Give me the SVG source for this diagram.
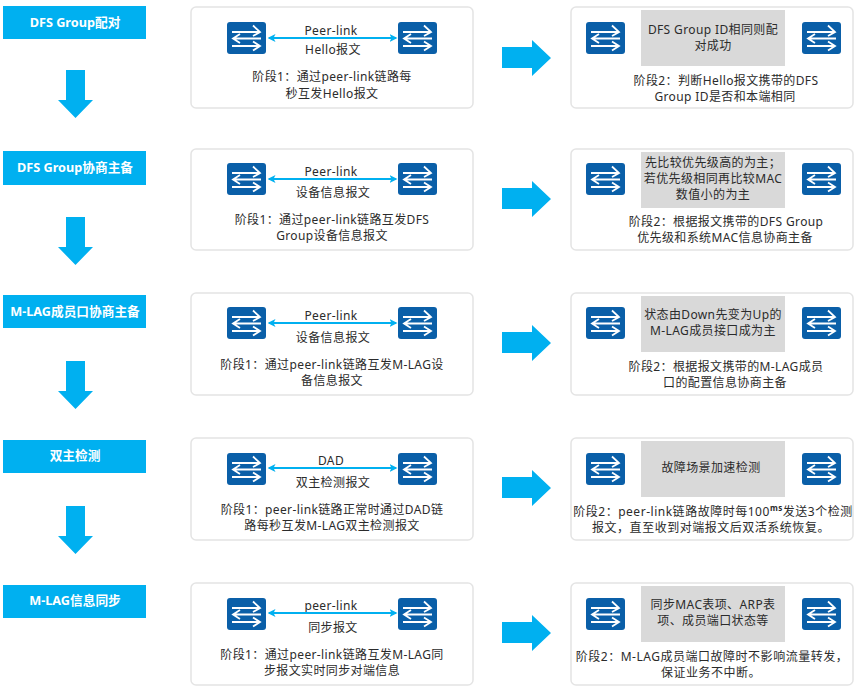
<svg xmlns="http://www.w3.org/2000/svg" width="865" height="687" viewBox="0 0 865 687">
<style>
text{font-family:"Noto Sans","Noto Sans CJK SC",sans-serif;font-size:12px;letter-spacing:.38px;fill:#2b2b2b;text-anchor:middle}
.h{fill:#00b0f0}
text.ht{fill:#fff;font-weight:700;font-size:12.7px;letter-spacing:0}
text.w{letter-spacing:.52px}
.card{fill:#fff;stroke:#e4e4e4;stroke-width:1.5}
.grey{fill:#d9d9d9}
.link{stroke:#00b0f0;stroke-width:2;fill:none;marker-start:url(#a);marker-end:url(#a)}
.sup{font-size:8px;font-weight:700}
</style>
<defs>
<marker id="a" viewBox="0 0 8 8" refX="6.5" refY="4" markerWidth="8" markerHeight="8" orient="auto-start-reverse" markerUnits="userSpaceOnUse"><path d="M0 0L8 4L0 8L2 4Z" fill="#00b0f0"/></marker>
<g id="sw">
<rect x="0" y="0" width="39" height="32" rx="3" fill="#0a5fa8"/>
<g fill="none" stroke="#fff" stroke-width="1.8"><path d="M5 10H32M26 3.500L33 10L26 14"/><path d="M34 16.500H7M13 12L6 16.500L13 21"/><path d="M5 24H32M26 19.500L33 24L26 28.500"/></g>
</g>
<path id="dn" class="h" d="M66 70H85V100H93L75.500 118L58 100H66Z"/>
<path id="rt" class="h" d="M502 47H532V40L551 58L532 76V68H502Z"/>
</defs>

<g id="step1"><rect class="h" x="3" y="6" width="143" height="33"/><text class="ht" x="75" y="27">DFS Group配对</text></g>
<g id="step2"><rect class="h" x="3" y="151" width="143" height="34"/><text class="ht" x="75" y="172">DFS Group协商主备</text></g>
<g id="step3"><rect class="h" x="3" y="295" width="143" height="33"/><text class="ht" x="75" y="316">M-LAG成员口协商主备</text></g>
<g id="step4"><rect class="h" x="3" y="440" width="143" height="33"/><text class="ht" x="75" y="460">双主检测</text></g>
<g id="step5"><rect class="h" x="3" y="585" width="143" height="33"/><text class="ht" x="75" y="605">M-LAG信息同步</text></g>

<g id="r1a"><rect class="card" x="191" y="7" width="282" height="101" rx="5"/><use href="#sw" x="227" y="22"/><use href="#sw" x="398" y="22"/>
<text x="331" y="35">Peer-link</text><text x="333" y="54">Hello报文</text><text x="332" y="81">阶段1：通过peer-link链路每</text><text x="332" y="98">秒互发Hello报文</text></g>
<g id="r1b"><rect class="card" x="571" y="7" width="282" height="101" rx="5"/><rect class="grey" x="641" y="10" width="144" height="56"/><use href="#sw" x="586" y="22"/><use href="#sw" x="802" y="22"/>
<text x="713" y="34">DFS Group ID相同则配</text><text x="713" y="50">对成功</text><text x="726" y="85">阶段2：判断Hello报文携带的DFS</text><text x="725" y="101">Group ID是否和本端相同</text></g>

<g id="r2a"><rect class="card" x="191" y="149" width="282" height="101" rx="5"/><use href="#sw" x="227" y="163"/><use href="#sw" x="398" y="163"/>
<text x="331" y="176">Peer-link</text><text x="333" y="197">设备信息报文</text><text x="332" y="224">阶段1：通过peer-link链路互发DFS</text><text x="332" y="240">Group设备信息报文</text></g>
<g id="r2b"><rect class="card" x="571" y="149" width="282" height="101" rx="5"/><rect class="grey" x="641" y="152" width="144" height="56"/><use href="#sw" x="586" y="163"/><use href="#sw" x="802" y="163"/>
<text x="713" y="167">先比较优先级高的为主；</text><text x="713" y="183">若优先级相同再比较MAC</text><text x="713" y="199">数值小的为主</text><text x="726" y="226">阶段2：根据报文携带的DFS Group</text><text x="725" y="242">优先级和系统MAC信息协商主备</text></g>

<g id="r3a"><rect class="card" x="191" y="293" width="282" height="102" rx="5"/><use href="#sw" x="227" y="307"/><use href="#sw" x="398" y="307"/>
<text x="331" y="320">Peer-link</text><text x="333" y="342">设备信息报文</text><text x="332" y="369">阶段1：通过peer-link链路互发M-LAG设</text><text x="332" y="385">备信息报文</text></g>
<g id="r3b"><rect class="card" x="571" y="293" width="282" height="102" rx="5"/><rect class="grey" x="641" y="296" width="144" height="56"/><use href="#sw" x="586" y="307"/><use href="#sw" x="802" y="307"/>
<text x="713" y="319">状态由Down先变为Up的</text><text x="713" y="335">M-LAG成员接口成为主</text><text x="726" y="371">阶段2：根据报文携带的M-LAG成员</text><text x="725" y="387">口的配置信息协商主备</text></g>

<g id="r4a"><rect class="card" x="191" y="438" width="282" height="102" rx="5"/><use href="#sw" x="227" y="453"/><use href="#sw" x="398" y="453"/>
<text x="331" y="465">DAD</text><text x="333" y="487">双主检测报文</text><text x="332" y="514">阶段1：peer-link链路正常时通过DAD链</text><text x="332" y="530">路每秒互发M-LAG双主检测报文</text></g>
<g id="r4b"><rect class="card" x="571" y="438" width="282" height="102" rx="5"/><rect class="grey" x="641" y="441" width="144" height="56"/><use href="#sw" x="586" y="453"/><use href="#sw" x="802" y="453"/>
<text x="711" y="472">故障场景加速检测</text><text class="w" x="713" y="516">阶段2：peer-link链路故障时每100<tspan class="sup" dy="-5">ms</tspan><tspan dy="5">发送3个检测</tspan></text><text class="w" x="711" y="532">报文，直至收到对端报文后双活系统恢复。</text></g>

<g id="r5a"><rect class="card" x="191" y="583" width="282" height="102" rx="5"/><use href="#sw" x="227" y="598"/><use href="#sw" x="398" y="598"/>
<text x="331" y="610">peer-link</text><text x="333" y="632">同步报文</text><text x="332" y="659">阶段1：通过peer-link链路互发M-LAG同</text><text x="332" y="675">步报文实时同步对端信息</text></g>
<g id="r5b"><rect class="card" x="571" y="583" width="282" height="102" rx="5"/><rect class="grey" x="641" y="586" width="144" height="56"/><use href="#sw" x="586" y="598"/><use href="#sw" x="802" y="598"/>
<text x="713" y="609">同步MAC表项、ARP表</text><text x="713" y="625">项、成员端口状态等</text><text class="w" x="712" y="661">阶段2：M-LAG成员端口故障时不影响流量转发，</text><text class="w" x="711" y="677">保证业务不中断。</text></g>

<g id="connectors">
<use href="#dn"/><use href="#dn" y="147"/><use href="#dn" y="291"/><use href="#dn" y="436"/>
<use href="#rt"/><use href="#rt" y="141"/><use href="#rt" y="285"/><use href="#rt" y="430"/><use href="#rt" y="575"/>
<path class="link" d="M269 38H396"/><path class="link" d="M269 179H396"/><path class="link" d="M269 323H396"/><path class="link" d="M269 468H396"/><path class="link" d="M269 613H396"/>
</g>
</svg>
